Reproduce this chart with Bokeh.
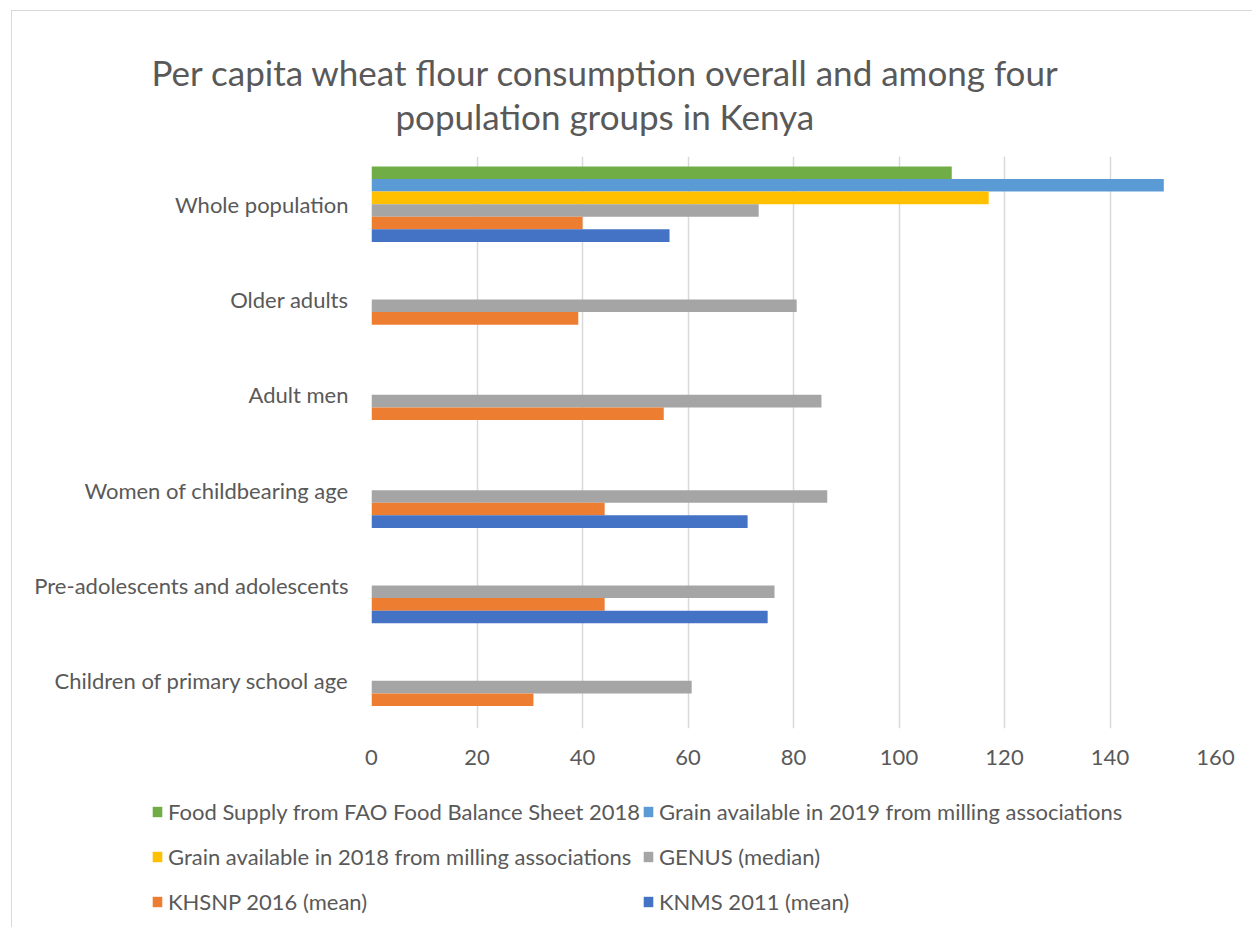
from bokeh.plotting import figure
from bokeh.models import (FactorRange, Range1d, FixedTicker, Legend, LegendItem,
                          ColumnDataSource, Title)
from bokeh.transform import dodge
from bokeh.embed import file_html
from bokeh.resources import INLINE

categories = ["Whole population", "Older adults", "Adult men",
              "Women of childbearing age", "Pre-adolescents and adolescents",
              "Children of primary school age"]
fao_2018 = [110.0, None, None, None, None, None]
milling_2019 = [150.2, None, None, None, None, None]
milling_2018 = [117.0, None, None, None, None, None]
genus_median = [73.4, 80.6, 85.3, 86.4, 76.4, 60.7]
khsnp_2016 = [40.0, 39.2, 55.4, 44.2, 44.2, 30.7]
knms_2011 = [56.5, None, None, 71.3, 75.1, None]
x_ticks = [0, 20, 40, 60, 80, 100, 120, 140, 160]

series = [
    ("Food Supply from FAO Food Balance Sheet 2018", fao_2018, "#70AD47"),
    ("Grain available in 2019 from milling associations", milling_2019, "#5B9BD5"),
    ("Grain available in 2018 from milling associations", milling_2018, "#FFC000"),
    ("GENUS (median)", genus_median, "#A5A5A5"),
    ("KHSNP 2016 (mean)", khsnp_2016, "#ED7D31"),
    ("KNMS 2011 (mean)", knms_2011, "#4472C4"),
]

FONT = "Lato"
TXT = "#595959"
BORDER = "1.5px solid #d9d9d9"

p = figure(width=1241, height=770, output_backend="svg", toolbar_location=None,
           y_range=FactorRange(factors=categories[::-1], range_padding=0),
           x_range=Range1d(0, 160),
           min_border_left=359, min_border_right=38, min_border_top=145, min_border_bottom=53)
p.outline_line_color = None
p.margin = (10, 0, 0, 11)
p.styles = {"border-left": BORDER, "border-top": BORDER}

bar_h = 0.132
for i, (name, vals, color) in enumerate(series):
    cats = [c for c, v in zip(categories, vals) if v is not None]
    vs = [v for v in vals if v is not None]
    src = ColumnDataSource(dict(cat=cats, val=vs))
    off = (2.5 - i) * bar_h
    p.hbar(y=dodge("cat", off, range=p.y_range), right="val", left=0,
           height=bar_h, source=src, fill_color=color, line_color=None)

p.xaxis.ticker = FixedTicker(ticks=x_ticks)
p.xgrid.ticker = FixedTicker(ticks=x_ticks)
p.xgrid.grid_line_color = "#d9d9d9"
p.xgrid.grid_line_width = 1.5
p.ygrid.grid_line_color = None

for ax in (p.xaxis, p.yaxis):
    ax.axis_line_color = None
    ax.major_tick_line_color = None
    ax.minor_tick_line_color = None
    ax.major_tick_out = 0
    ax.major_tick_in = 0
    ax.major_label_text_font = FONT
    ax.major_label_text_font_size = "22px"
    ax.major_label_text_color = TXT
p.xaxis.major_label_standoff = 21
p.yaxis.major_label_standoff = 23

def style_title(t):
    t.align = "left"
    t.text_font = FONT
    t.text_font_size = "35px"
    t.text_font_style = "normal"
    t.text_color = TXT

p.title.text = "Per capita wheat flour consumption overall and among four"
style_title(p.title)
p.title.offset = -220
p.title.standoff = -41
t2 = Title(text="population groups in Kenya")
style_title(t2)
t2.offset = 24
t2.standoff = 40
p.add_layout(t2, "above")

# legend panel (second root, directly below)
pl = figure(width=1241, height=147, output_backend="svg", toolbar_location=None,
            x_range=Range1d(0, 1), y_range=Range1d(0, 1),
            x_axis_location=None, y_axis_location=None,
            min_border=0, min_border_left=0, min_border_right=0,
            min_border_top=0, min_border_bottom=0)
pl.outline_line_color = None
pl.grid.visible = False
pl.margin = (0, 0, 0, 11)
pl.styles = {"border-left": BORDER}
leg_r = []
for name, vals, color in series:
    r = pl.hbar(y=[5], right=[5], left=[4], height=0.1, fill_color=color, line_color=None)
    leg_r.append((name, r))

def mk_legend(idx, x):
    items = [LegendItem(label=leg_r[k][0], renderers=[leg_r[k][1]]) for k in idx]
    lg = Legend(items=items, location=(x, 4), orientation="vertical",
                glyph_width=12, glyph_height=13, label_height=43, spacing=2,
                label_standoff=5, padding=0, margin=0, border_line_color=None,
                background_fill_alpha=0, label_text_font=FONT,
                label_text_font_size="22px", label_text_color=TXT)
    pl.add_layout(lg, "center")

mk_legend([0, 2, 4], 139)
mk_legend([1, 3, 5], 630)

open("out.html", "w").write(file_html([p, pl], INLINE))
